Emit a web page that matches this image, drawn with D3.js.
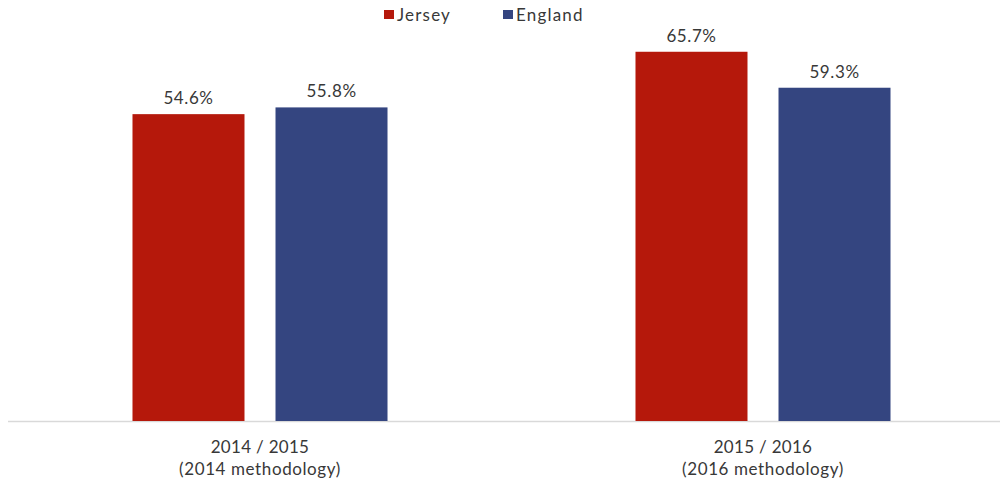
<!DOCTYPE html>
<html>
<head>
<meta charset="utf-8">
<script src="https://cdn.jsdelivr.net/npm/d3@7"></script>
<style>
  html, body { margin: 0; padding: 0; background: #ffffff; }
  svg { display: block; font-family: Lato, "Open Sans", sans-serif; }
</style>
</head>
<body>
<svg id="chart" width="1004" height="484"></svg>
<script>
// Periods (two lines each) and series
const periods = ["2014 / 2015", "2015 / 2016"];
const periodNotes = ["(2014 methodology)", "(2016 methodology)"];
const seriesNames = ["Jersey", "England"];
const seriesColors = ["#b5180b", "#344580"];
const jerseyValues = [54.6, 65.7];
const englandValues = [55.8, 59.3];

const valuesBySeries = [jerseyValues, englandValues];
const rows = periods.map((p, i) => ({
  period: p,
  note: periodNotes[i],
  values: seriesNames.map((s, j) => ({ series: s, value: valuesBySeries[j][i], color: seriesColors[j] }))
}));

const svg = d3.select("#chart");
const baseY = 421;
const textColor = "#383838";

const y = d3.scaleLinear().domain([0, 70]).range([baseY, 27.6]);
const x0 = d3.scaleBand().domain(periods).range([8.5, 1014.5]).padding(0);
const x1 = d3.scaleBand().domain(seriesNames).range([0, x0.bandwidth()])
  .paddingInner(0.2168).paddingOuter(0.867);

// Baseline
svg.append("line")
  .attr("x1", 8).attr("x2", 1000)
  .attr("y1", baseY + 0.5).attr("y2", baseY + 0.5)
  .attr("stroke", "#d9d9d9").attr("stroke-width", 1.5);

const groups = svg.selectAll("g.period").data(rows).join("g")
  .attr("class", "period")
  .attr("transform", d => `translate(${x0(d.period)},0)`);

groups.selectAll("rect").data(d => d.values).join("rect")
  .attr("x", d => x1(d.series))
  .attr("width", x1.bandwidth())
  .attr("y", d => y(d.value))
  .attr("height", d => baseY - y(d.value))
  .attr("fill", d => d.color);

groups.selectAll("text.val").data(d => d.values).join("text")
  .attr("class", "val")
  .attr("x", d => x1(d.series) + x1.bandwidth() / 2)
  .attr("y", d => y(d.value) - 10)
  .attr("text-anchor", "middle")
  .attr("font-size", 17)
  .attr("letter-spacing", 0.6)
  .attr("fill", textColor)
  .text(d => d.value.toFixed(1) + "%");

// Category labels
groups.append("text")
  .attr("x", x0.bandwidth() / 2)
  .attr("y", 453)
  .attr("text-anchor", "middle")
  .attr("font-size", 17)
  .attr("letter-spacing", 0.3)
  .attr("fill", textColor)
  .text(d => d.period);
groups.append("text")
  .attr("x", x0.bandwidth() / 2)
  .attr("y", 475)
  .attr("text-anchor", "middle")
  .attr("font-size", 17)
  .attr("letter-spacing", 0.6)
  .attr("fill", textColor)
  .text(d => d.note);

// Legend
const legendX = [384, 503];
const legend = svg.selectAll("g.legend").data(seriesNames).join("g")
  .attr("class", "legend")
  .attr("transform", (d, i) => `translate(${legendX[i]},0)`);
legend.append("rect")
  .attr("x", 0).attr("y", 10).attr("width", 10).attr("height", 9)
  .attr("fill", (d, i) => seriesColors[i]);
legend.append("text")
  .attr("x", 13).attr("y", 21)
  .attr("font-size", 17)
  .attr("letter-spacing", 1.2)
  .attr("fill", textColor)
  .text(d => d);
</script>
</body>
</html>
